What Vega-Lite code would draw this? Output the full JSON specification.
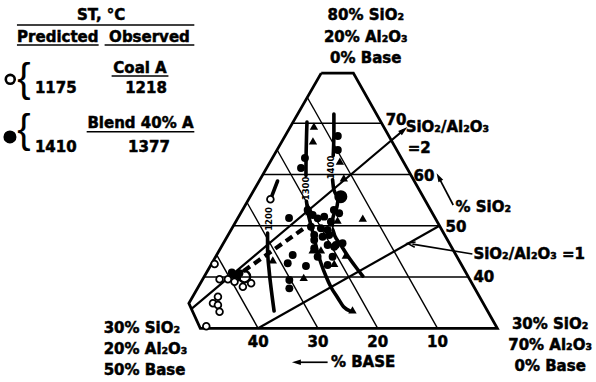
{
  "$schema": "https://vega.github.io/schema/vega-lite/v6.json",
  "width": 596,
  "height": 382,
  "autosize": {"type": "fit", "contains": "padding"},
  "padding": 0,
  "background": "white",
  "config": {"view": {"stroke": null}, "font": "DejaVu Sans"},
  "datasets": {
    "paths": [
      {"path": "frame", "kind": "frame", "i": 0, "x": 29.45, "s": 79.8},
      {"path": "frame", "kind": "frame", "i": 1, "x": 24.07, "s": 79.8},
      {"path": "frame", "kind": "frame", "i": 2, "x": 0, "s": 30},
      {"path": "frame", "kind": "frame", "i": 3, "x": 49.67, "s": 30},
      {"path": "frame", "kind": "frame", "i": 4, "x": 51.58, "s": 34.88},
      {"path": "frame", "kind": "frame", "i": 5, "x": 29.45, "s": 79.8},
      {"path": "s40", "kind": "grid", "i": 0, "x": 49.07, "s": 40},
      {"path": "s40", "kind": "grid", "i": 1, "x": 4.83, "s": 40},
      {"path": "s50", "kind": "grid", "i": 0, "x": 44.14, "s": 50},
      {"path": "s50", "kind": "grid", "i": 1, "x": 9.67, "s": 50},
      {"path": "s60", "kind": "grid", "i": 0, "x": 39.21, "s": 60},
      {"path": "s60", "kind": "grid", "i": 1, "x": 14.5, "s": 60},
      {"path": "s70", "kind": "grid", "i": 0, "x": 34.28, "s": 70},
      {"path": "s70", "kind": "grid", "i": 1, "x": 19.33, "s": 70},
      {"path": "b10", "kind": "grid", "i": 0, "x": 10, "s": 30},
      {"path": "b10", "kind": "grid", "i": 1, "x": 31.79, "s": 75.08},
      {"path": "b20", "kind": "grid", "i": 0, "x": 20, "s": 30},
      {"path": "b20", "kind": "grid", "i": 1, "x": 36.84, "s": 64.84},
      {"path": "b30", "kind": "grid", "i": 0, "x": 30, "s": 30},
      {"path": "b30", "kind": "grid", "i": 1, "x": 41.88, "s": 54.59},
      {"path": "b40", "kind": "grid", "i": 0, "x": 40, "s": 30},
      {"path": "b40", "kind": "grid", "i": 1, "x": 46.93, "s": 44.34},
      {"path": "ratio2", "kind": "ratio", "i": 0, "x": 51.15, "s": 33.78},
      {"path": "ratio2", "kind": "ratio", "i": 1, "x": 15.66, "s": 68.69},
      {"path": "ratio1", "kind": "ratio", "i": 0, "x": 40, "s": 30},
      {"path": "ratio1", "kind": "ratio", "i": 1, "x": 9.67, "s": 50},
      {"path": "lead1", "kind": "leader", "i": 0, "x": 4.17, "s": 44.5},
      {"path": "lead1", "kind": "leader", "i": 1, "x": 14.2, "s": 46.42},
      {"path": "arrSi", "kind": "arrow", "i": 0, "x": 7.38, "s": 54.06},
      {"path": "arrSi", "kind": "arrow", "i": 1, "x": 9.62, "s": 59.07},
      {"path": "arrBase", "kind": "arrow", "i": 0, "x": 28.38, "s": 23.37},
      {"path": "arrBase", "kind": "arrow", "i": 1, "x": 33.38, "s": 23.37},
      {"path": "t1300a", "kind": "isotherm", "i": 0, "x": 31.83, "s": 70.24},
      {"path": "t1300a", "kind": "isotherm", "i": 1, "x": 31.92, "s": 66.74},
      {"path": "t1300a", "kind": "isotherm", "i": 2, "x": 32, "s": 61.47},
      {"path": "t1300a", "kind": "isotherm", "i": 3, "x": 32, "s": 59.8},
      {"path": "t1300b", "kind": "isotherm", "i": 0, "x": 31.92, "s": 54.8},
      {"path": "t1300b", "kind": "isotherm", "i": 1, "x": 31.67, "s": 52.69},
      {"path": "t1300b", "kind": "isotherm", "i": 2, "x": 31.17, "s": 50.16},
      {"path": "t1300b", "kind": "isotherm", "i": 3, "x": 30.67, "s": 47.81},
      {"path": "t1300b", "kind": "isotherm", "i": 4, "x": 30.17, "s": 45.28},
      {"path": "t1300b", "kind": "isotherm", "i": 5, "x": 29.5, "s": 42.74},
      {"path": "t1300b", "kind": "isotherm", "i": 6, "x": 28.67, "s": 40.2},
      {"path": "t1300b", "kind": "isotherm", "i": 7, "x": 27.83, "s": 38.06},
      {"path": "t1300b", "kind": "isotherm", "i": 8, "x": 26.67, "s": 35.91},
      {"path": "t1300b", "kind": "isotherm", "i": 9, "x": 25.67, "s": 34.16},
      {"path": "t1300b", "kind": "isotherm", "i": 10, "x": 24.67, "s": 33.38},
      {"path": "t1400a", "kind": "isotherm", "i": 0, "x": 27.33, "s": 71.8},
      {"path": "t1400a", "kind": "isotherm", "i": 1, "x": 27.33, "s": 67.72},
      {"path": "t1400a", "kind": "isotherm", "i": 2, "x": 27.45, "s": 63.7},
      {"path": "t1400b", "kind": "isotherm", "i": 0, "x": 27.55, "s": 59.0},
      {"path": "t1400b", "kind": "isotherm", "i": 1, "x": 27.33, "s": 56.99},
      {"path": "t1400b", "kind": "isotherm", "i": 2, "x": 26.5, "s": 55.62},
      {"path": "t1400b", "kind": "isotherm", "i": 3, "x": 26.83, "s": 53.67},
      {"path": "t1400b", "kind": "isotherm", "i": 4, "x": 27.5, "s": 51.52},
      {"path": "t1400b", "kind": "isotherm", "i": 5, "x": 27.67, "s": 49.57},
      {"path": "t1400b", "kind": "isotherm", "i": 6, "x": 27.17, "s": 48.01},
      {"path": "t1400b", "kind": "isotherm", "i": 7, "x": 26.17, "s": 46.25},
      {"path": "t1400b", "kind": "isotherm", "i": 8, "x": 25, "s": 44.11},
      {"path": "t1400b", "kind": "isotherm", "i": 9, "x": 23.67, "s": 41.96},
      {"path": "t1400b", "kind": "isotherm", "i": 10, "x": 22.5, "s": 40.2},
      {"path": "t1200a", "kind": "isotherm", "i": 0, "x": 36.75, "s": 58.74},
      {"path": "t1200a", "kind": "isotherm", "i": 1, "x": 37.83, "s": 55.43},
      {"path": "t1200b", "kind": "isotherm", "i": 0, "x": 38.42, "s": 48.6},
      {"path": "t1200b", "kind": "isotherm", "i": 1, "x": 38.42, "s": 45.28},
      {"path": "t1200b", "kind": "isotherm", "i": 2, "x": 38.17, "s": 41.38},
      {"path": "t1200b", "kind": "isotherm", "i": 3, "x": 37.75, "s": 37.08},
      {"path": "t1200b", "kind": "isotherm", "i": 4, "x": 37.33, "s": 33.38},
      {"path": "trend", "kind": "dashed", "i": 0, "x": 32.5, "s": 49.38},
      {"path": "trend", "kind": "dashed", "i": 1, "x": 42.83, "s": 40.83}
    ],
    "rules": [
      {"x": 80.33, "x2": 50.67, "s": 89.18},
      {"x": 80.33, "x2": 66.67, "s": 85.28},
      {"x": 65.67, "x2": 50.67, "s": 85.28},
      {"x": 64.5, "x2": 55.0, "s": 79.23},
      {"x": 68.67, "x2": 50.67, "s": 68.36}
    ],
    "obs": [
      {"marker": "circle", "x": 26.67, "s": 67.52},
      {"marker": "circle", "x": 26.67, "s": 64.79},
      {"marker": "circle", "x": 32.17, "s": 63.23},
      {"marker": "circle", "x": 32.83, "s": 61.28},
      {"marker": "circle", "x": 27.33, "s": 53.08},
      {"marker": "circle", "x": 34.83, "s": 51.52},
      {"marker": "circle", "x": 34.22, "s": 44.3},
      {"marker": "circle", "x": 35.05, "s": 42.68},
      {"marker": "circle", "x": 32.0, "s": 42.16},
      {"marker": "circle", "x": 34.78, "s": 39.42},
      {"marker": "circle", "x": 34.78, "s": 37.8},
      {"marker": "circle", "x": 28.38, "s": 42.35},
      {"marker": "circle", "x": 30.62, "s": 45.61},
      {"marker": "circle", "x": 30.05, "s": 43.97},
      {"marker": "circle", "x": 27.28, "s": 45.92},
      {"marker": "circle", "x": 31.72, "s": 53.08},
      {"marker": "circle", "x": 30.88, "s": 52.11},
      {"marker": "circle", "x": 30.05, "s": 51.46},
      {"marker": "circle", "x": 28.95, "s": 51.78},
      {"marker": "circle", "x": 27.83, "s": 50.8},
      {"marker": "circle", "x": 31.17, "s": 49.82},
      {"marker": "circle", "x": 29.5, "s": 49.51},
      {"marker": "circle", "x": 28.38, "s": 49.18},
      {"marker": "circle", "x": 30.62, "s": 48.2},
      {"marker": "circle", "x": 29.22, "s": 47.87},
      {"marker": "circle", "x": 28.12, "s": 48.2},
      {"marker": "circle", "x": 30.62, "s": 47.23},
      {"marker": "circle", "x": 28.38, "s": 46.25},
      {"marker": "circle", "x": 27.0, "s": 46.25},
      {"marker": "circle", "x": 25.88, "s": 46.59},
      {"marker": "circle", "x": 27.55, "s": 43.97},
      {"marker": "circle", "x": 26.45, "s": 52.44},
      {"marker": "circle", "x": 43.12, "s": 40.73},
      {"marker": "circle", "x": 43.95, "s": 40.4},
      {"marker": "circle", "x": 44.4, "s": 40.9},
      {"marker": "circle", "x": 43.5, "s": 39.9},
      {"marker": "triangle", "x": 30.67, "s": 69.47},
      {"marker": "triangle", "x": 30.83, "s": 66.55},
      {"marker": "triangle", "x": 26.33, "s": 62.64},
      {"marker": "triangle", "x": 25.67, "s": 59.33},
      {"marker": "triangle", "x": 22.5, "s": 51.52},
      {"marker": "triangle", "x": 32.38, "s": 39.95},
      {"marker": "triangle", "x": 37.55, "s": 43.33},
      {"marker": "triangle", "x": 25.33, "s": 44.3},
      {"marker": "triangle", "x": 27.28, "s": 42.68},
      {"marker": "triangle", "x": 29.5, "s": 45.28},
      {"marker": "triangle", "x": 26.72, "s": 51.13},
      {"marker": "triangle", "x": 30.88, "s": 45.28},
      {"marker": "triangle", "x": 31.45, "s": 52.75},
      {"marker": "triangle", "x": 24.22, "s": 33.57},
      {"marker": "open", "x": 37.95, "s": 55.17},
      {"marker": "open", "x": 47.28, "s": 42.55},
      {"marker": "open", "x": 46.45, "s": 39.56},
      {"marker": "open", "x": 45.05, "s": 39.56},
      {"marker": "open", "x": 42.55, "s": 38.12},
      {"marker": "open", "x": 41.17, "s": 38.78},
      {"marker": "open", "x": 43.95, "s": 39.09},
      {"marker": "open", "x": 46.72, "s": 36.17},
      {"marker": "open", "x": 47.55, "s": 34.88},
      {"marker": "open", "x": 46.72, "s": 34.55},
      {"marker": "open", "x": 46.45, "s": 33.24},
      {"marker": "open", "x": 48.67, "s": 30.4}
    ],
    "samples": [
      {"series": "Coal A", "x": 42.28, "s": 40.07},
      {"series": "Blend 40% A", "x": 26.17, "s": 55.68}
    ],
    "key": [
      {"series": "Coal A", "x": 81.45, "s": 78.58},
      {"series": "Blend 40% A", "x": 81.5, "s": 67.33}
    ],
    "textCenter": [
      {"label": "80% SiO₂", "x": 22, "s": 91.13},
      {"label": "20% Al₂O₃", "x": 22, "s": 86.9},
      {"label": "0% Base", "x": 22, "s": 82.68},
      {"label": "40", "x": 40, "s": 27.33},
      {"label": "30", "x": 30, "s": 27.33},
      {"label": "20", "x": 20, "s": 27.33},
      {"label": "10", "x": 10, "s": 27.33},
      {"label": "30% SiO₂", "x": -8.83, "s": 30.84},
      {"label": "70% Al₂O₃", "x": -8.83, "s": 26.74},
      {"label": "0% Base", "x": -8.83, "s": 22.65},
      {"label": "ST, °C", "x": 66.25, "s": 91.13},
      {"label": "Predicted", "x": 73.5, "s": 86.9},
      {"label": "Observed", "x": 58.17, "s": 86.9},
      {"label": "Coal A", "x": 59.75, "s": 80.73},
      {"label": "1218", "x": 58.75, "s": 76.83},
      {"label": "Blend 40% A", "x": 59.67, "s": 70.0},
      {"label": "1377", "x": 58.25, "s": 65.43}
    ],
    "textLeft": [
      {"label": "70", "x": 18.67, "s": 70.64},
      {"label": "SiO₂/Al₂O₃", "x": 15.33, "s": 69.34},
      {"label": "=2", "x": 15, "s": 65.12},
      {"label": "60", "x": 14, "s": 59.72},
      {"label": "50", "x": 8.67, "s": 49.71},
      {"label": "40", "x": 4, "s": 39.95},
      {"label": "% SiO₂", "x": 7, "s": 53.67},
      {"label": "SiO₂/Al₂O₃ =1", "x": 4, "s": 44.5},
      {"label": "% BASE", "x": 27.83, "s": 23.37},
      {"label": "1175", "x": 77.33, "s": 76.83},
      {"label": "1410", "x": 77.33, "s": 65.43},
      {"label": "30% SiO₂", "x": 65.83, "s": 30},
      {"label": "20% Al₂O₃", "x": 65.83, "s": 25.9},
      {"label": "50% Base", "x": 65.83, "s": 21.86}
    ],
    "isoLabels": [
      {"label": "1200", "x": 38.17, "s": 51.33},
      {"label": "1300", "x": 32, "s": 57.3},
      {"label": "1400", "x": 27.75, "s": 61.38}
    ],
    "braces": [
      {"label": "{", "x": 79.17, "s": 78.54},
      {"label": "{", "x": 79.17, "s": 68.5}
    ]
  },
  "encoding": {
    "x": {"field": "x", "type": "quantitative", "scale": {"domain": [-16.5, 82.83], "reverse": true, "nice": false, "zero": false}, "axis": null},
    "y": {"field": "s", "type": "quantitative", "scale": {"domain": [19.52, 94.06], "nice": false, "zero": false}, "axis": null}
  },
  "layer": [
    {
      "data": {"name": "paths"},
      "transform": [{"filter": "datum.kind === 'grid'"}],
      "mark": {"type": "line", "color": "black", "strokeWidth": 1.4},
      "encoding": {"detail": {"field": "path", "type": "nominal"}, "order": {"field": "i", "type": "quantitative"}}
    },
    {
      "data": {"name": "paths"},
      "transform": [{"filter": "datum.kind === 'frame'"}],
      "mark": {"type": "line", "color": "black", "strokeWidth": 2.8, "strokeJoin": "miter"},
      "encoding": {"detail": {"field": "path", "type": "nominal"}, "order": {"field": "i", "type": "quantitative"}}
    },
    {
      "data": {"name": "paths"},
      "transform": [{"filter": "datum.kind === 'ratio'"}],
      "mark": {"type": "line", "color": "black", "strokeWidth": 2.2},
      "encoding": {"detail": {"field": "path", "type": "nominal"}, "order": {"field": "i", "type": "quantitative"}}
    },
    {
      "data": {"name": "paths"},
      "transform": [{"filter": "datum.kind === 'leader' || datum.kind === 'arrow'"}],
      "mark": {"type": "line", "color": "black", "strokeWidth": 1.7},
      "encoding": {"detail": {"field": "path", "type": "nominal"}, "order": {"field": "i", "type": "quantitative"}}
    },
    {
      "data": {"name": "paths"},
      "transform": [{"filter": "datum.kind === 'isotherm'"}],
      "mark": {"type": "line", "color": "black", "strokeWidth": 3.6, "strokeCap": "round", "interpolate": "monotone"},
      "encoding": {"detail": {"field": "path", "type": "nominal"}, "order": {"field": "i", "type": "quantitative"}}
    },
    {
      "data": {"name": "paths"},
      "transform": [{"filter": "datum.kind === 'dashed'"}],
      "mark": {"type": "line", "color": "black", "strokeWidth": 4.2, "strokeDash": [8, 5]},
      "encoding": {"detail": {"field": "path", "type": "nominal"}, "order": {"field": "i", "type": "quantitative"}}
    },
    {
      "data": {"values": [{"x": 15.66, "s": 68.69}]},
      "mark": {"type": "point", "shape": "M0,-1L0.6,1L-0.6,1Z", "filled": true, "color": "black", "size": 90, "angle": 50, "opacity": 1}
    },
    {
      "data": {"values": [{"x": 14.38, "s": 46.45}]},
      "mark": {"type": "point", "shape": "M-0.7,1L0,-1L0.7,1", "filled": false, "stroke": "black", "strokeWidth": 1.5, "size": 60, "angle": 279, "opacity": 1}
    },
    {
      "data": {"values": [{"x": 9.8, "s": 59.5}]},
      "mark": {"type": "point", "shape": "M0,-1L0.6,1L-0.6,1Z", "filled": true, "color": "black", "size": 80, "angle": 332, "opacity": 1}
    },
    {
      "data": {"values": [{"x": 33.6, "s": 23.37}]},
      "mark": {"type": "point", "shape": "M0,-1L0.6,1L-0.6,1Z", "filled": true, "color": "black", "size": 80, "angle": 270, "opacity": 1}
    },
    {
      "data": {"name": "obs"},
      "transform": [{"filter": "datum.marker === 'circle'"}],
      "mark": {"type": "point", "shape": "circle", "filled": true, "color": "black", "size": 62, "opacity": 1}
    },
    {
      "data": {"name": "obs"},
      "transform": [{"filter": "datum.marker === 'triangle'"}],
      "mark": {"type": "point", "shape": "triangle-up", "filled": true, "color": "black", "size": 70, "opacity": 1}
    },
    {
      "data": {"name": "obs"},
      "transform": [{"filter": "datum.marker === 'open'"}],
      "mark": {"type": "point", "shape": "circle", "filled": false, "fill": "white", "stroke": "black", "strokeWidth": 1.8, "size": 45, "opacity": 1}
    },
    {
      "data": {"name": "samples"},
      "transform": [{"filter": "datum.series === 'Coal A'"}],
      "mark": {"type": "point", "shape": "circle", "filled": false, "stroke": "black", "strokeWidth": 2.4, "size": 130, "opacity": 1}
    },
    {
      "data": {"name": "samples"},
      "transform": [{"filter": "datum.series === 'Blend 40% A'"}],
      "mark": {"type": "point", "shape": "circle", "filled": true, "color": "black", "size": 170, "opacity": 1}
    },
    {
      "data": {"name": "key"},
      "transform": [{"filter": "datum.series === 'Coal A'"}],
      "mark": {"type": "point", "shape": "circle", "filled": false, "stroke": "black", "strokeWidth": 2.6, "size": 80, "opacity": 1}
    },
    {
      "data": {"name": "key"},
      "transform": [{"filter": "datum.series === 'Blend 40% A'"}],
      "mark": {"type": "point", "shape": "circle", "filled": true, "color": "black", "size": 170, "opacity": 1}
    },
    {
      "data": {"name": "rules"},
      "mark": {"type": "rule", "color": "black", "strokeWidth": 1.6},
      "encoding": {"x2": {"field": "x2"}}
    },
    {
      "data": {"name": "textCenter"},
      "mark": {"type": "text", "align": "center", "baseline": "middle", "font": "DejaVu Sans", "fontWeight": "bold", "fontSize": 15, "color": "black", "stroke": "black", "strokeWidth": 0.5},
      "encoding": {"text": {"field": "label", "type": "nominal"}}
    },
    {
      "data": {"name": "textLeft"},
      "mark": {"type": "text", "align": "left", "baseline": "middle", "font": "DejaVu Sans", "fontWeight": "bold", "fontSize": 15, "color": "black", "stroke": "black", "strokeWidth": 0.5},
      "encoding": {"text": {"field": "label", "type": "nominal"}}
    },
    {
      "data": {"name": "isoLabels"},
      "mark": {"type": "text", "align": "center", "baseline": "middle", "font": "DejaVu Sans", "fontWeight": "bold", "fontSize": 8.5, "angle": 270, "color": "black"},
      "encoding": {"text": {"field": "label", "type": "nominal"}}
    },
    {
      "data": {"name": "braces"},
      "mark": {"type": "text", "align": "center", "baseline": "middle", "font": "Liberation Sans", "fontWeight": "normal", "fontSize": 40, "color": "black"},
      "encoding": {"text": {"field": "label", "type": "nominal"}}
    }
  ]
}
